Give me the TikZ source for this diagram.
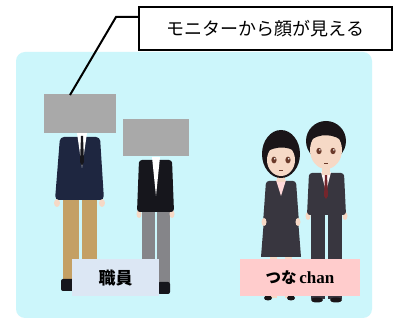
\documentclass[tikz,border=0pt]{standalone}
\usepackage{fontspec}
\newfontfamily\jpfont{Noto Sans CJK JP}
\newfontfamily\latinserif{Liberation Serif}
\definecolor{panelcyan}{HTML}{CCF6FB}
\definecolor{monitorgray}{HTML}{A9A9A9}
\definecolor{navy}{HTML}{1E2640}
\definecolor{khaki}{HTML}{C4A064}
\definecolor{slacks}{HTML}{858589}
\definecolor{jetblack}{HTML}{16161C}
\definecolor{skin}{HTML}{F6D9C6}
\definecolor{suitgray}{HTML}{38363F}
\definecolor{hairdark}{HTML}{1A1518}
\definecolor{eyebrown}{HTML}{6B3A2A}
\definecolor{staffbg}{HTML}{DCE7F4}
\definecolor{tunabg}{HTML}{FFCCCC}
\tikzset{
  monitor/.style={fill=monitorgray, draw=none},
  labelbox/.style={minimum height=37pt, inner sep=0pt, font=\jpfont},
  calloutbox/.style={draw=black, line width=2pt, fill=white, minimum width=253pt,
    minimum height=43pt, inner sep=0pt, font=\jpfont\fontsize{18}{20}\selectfont},
  leader/.style={draw=black, line width=2pt},
}
\begin{document}
\begin{tikzpicture}[x=1pt,y=-1pt]
\useasboundingbox (0,0) rectangle (397,320);
\fill[white] (0,0) rectangle (397,320);

% room background
\fill[panelcyan, rounded corners=9pt] (16,52) rectangle (372,318);

% ---- staff member 1 (tall, navy jacket, khaki trousers)
\fill[khaki] (63,196) rectangle (79,282);
\fill[khaki] (82,196) rectangle (97,282);
\fill[jetblack, rounded corners=2pt] (61,279) rectangle (77,291);
\fill[jetblack, rounded corners=2pt] (83,279) rectangle (96,291);
\fill[skin] (57,203) ellipse (3 and 4);
\fill[skin] (102,203) ellipse (3 and 4);
\fill[navy, rounded corners=4pt] (60,137) -- (100,137) -- (104,200) -- (55,200) -- cycle;
\fill[white] (77,133) -- (87,133) -- (82,168) -- cycle;
\fill[jetblack] (81,136) -- (83,136) -- (84,162) -- (82,166) -- (80,162) -- cycle;
\fill[monitor] (44,94) rectangle (116,133);
\coordinate (monitortop) at (70,95);

% ---- staff member 2 (black jacket, grey trousers)
\fill[slacks] (142,208) rectangle (155,283);
\fill[slacks] (157,208) rectangle (170,283);
\fill[jetblack, rounded corners=2pt] (158,282) rectangle (170,294);
\fill[skin] (139,214) ellipse (2.5 and 4);
\fill[skin] (172,214) ellipse (2.5 and 4);
\fill[jetblack, rounded corners=3pt] (139,160) -- (172,160) -- (174,212) -- (137,212) -- cycle;
\fill[white] (152,157) -- (160,157) -- (156,196) -- cycle;
\fill[monitor] (123,119) rectangle (189,156);

% ---- girl character
\fill[skin] (270,256) rectangle (277,298);
\fill[skin] (285,256) rectangle (292,298);
\fill[hairdark] (268,298) ellipse (4 and 2.5);
\fill[hairdark] (291,298) ellipse (4 and 2.5);
\fill[suitgray] (264,219) -- (298,219) -- (301,257) -- (261,257) -- cycle;
\fill[suitgray, rounded corners=3pt] (266,181) -- (296,181) -- (299,223) -- (263,223) -- cycle;
\fill[skin] (264,222) ellipse (2.5 and 4);
\fill[skin] (298,222) ellipse (2.5 and 4);
\fill[pink!60] (276,180) -- (286,180) -- (281,196) -- cycle;
\fill[skin] (277,172) rectangle (285,182);
\fill[hairdark] (281,154) ellipse (19 and 24);
\fill[skin] (281,160) ellipse (14 and 16);
\fill[hairdark] (266,152) .. controls (268,134) and (294,134) .. (296,152)
  .. controls (288,146) and (276,146) .. (266,152) -- cycle;
\fill[eyebrown] (274,160) ellipse (2.6 and 3.4);
\fill[eyebrown] (288,160) ellipse (2.6 and 3.4);
\fill[white] (274.8,158.8) circle (0.9);
\fill[white] (288.8,158.8) circle (0.9);
\draw[eyebrown, line width=0.6pt] (279,170) -- (283,170);

% ---- boy character
\fill[suitgray] (311,212) rectangle (325,299);
\fill[suitgray] (328,212) rectangle (342,299);
\fill[hairdark] (317,300) ellipse (6 and 2.5);
\fill[hairdark] (336,300) ellipse (6 and 2.5);
\fill[skin] (308,216) ellipse (2.5 and 4);
\fill[skin] (345,216) ellipse (2.5 and 4);
\fill[suitgray, rounded corners=3pt] (309,173) -- (344,173) -- (346,215) -- (307,215) -- cycle;
\fill[white!85!pink] (321,172) -- (331,172) -- (326,192) -- cycle;
\fill[suitgray!70!red] (325,175) -- (327,175) -- (328,196) -- (326,199) -- (324,196) -- cycle;
\fill[skin] (322,163) rectangle (330,175);
\fill[hairdark] (326,141) ellipse (20 and 20);
\fill[skin] (326,150) ellipse (16 and 19);
\fill[hairdark] (309,142) .. controls (312,118) and (340,118) .. (343,142)
  .. controls (336,134) and (318,132) .. (309,142) -- cycle;
\fill[eyebrown] (319,151) ellipse (2.6 and 3.2);
\fill[eyebrown] (333,151) ellipse (2.6 and 3.2);
\fill[white] (319.8,149.9) circle (0.9);
\fill[white] (333.8,149.9) circle (0.9);
\draw[eyebrown, line width=0.6pt] (324,163) -- (328,163);

% ---- name labels
\node[labelbox, fill=staffbg, minimum width=87pt] (staff) at (115.5,278)
  {\fontsize{17}{20}\selectfont\bfseries 職員};
\node[labelbox, fill=tunabg, minimum width=120pt] (tuna) at (300,278)
  {\fontsize{15.5}{18}\selectfont\bfseries つな\,{\latinserif\fontsize{17}{18}\selectfont chan}};

% ---- callout
\node[calloutbox] (callout) at (265.5,29) {モニターから顔が見える};
\coordinate (bend) at (116,17);
\draw[leader] (callout.west |- bend) -- (bend) -- (monitortop);
\end{tikzpicture}
\end{document}
